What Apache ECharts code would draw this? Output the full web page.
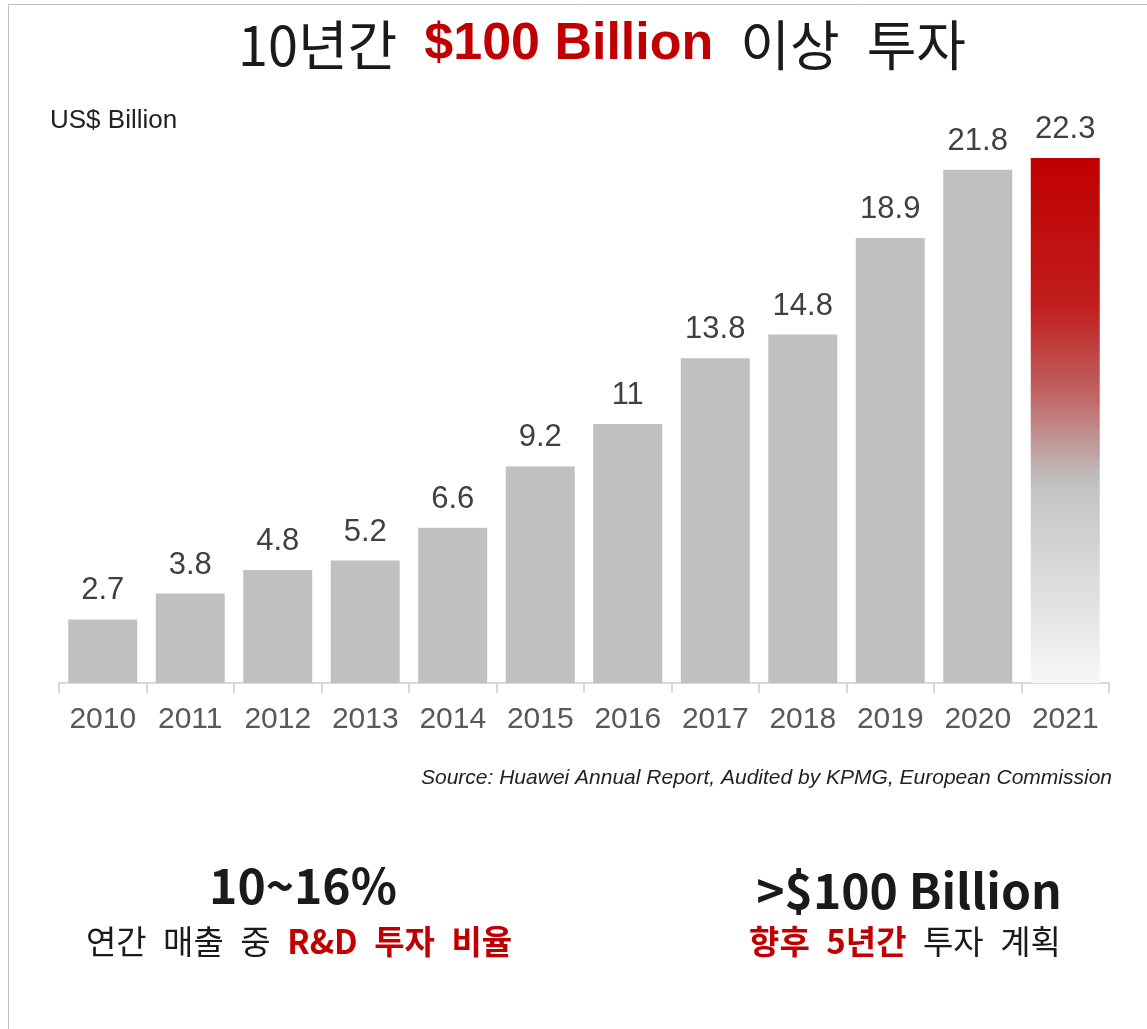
<!DOCTYPE html>
<html>
<head>
<meta charset="utf-8">
<script src="https://cdn.jsdelivr.net/npm/echarts@6/dist/echarts.min.js"></script>
<style>
  html, body { margin: 0; padding: 0; background: #fff; }
  #chart { width: 1147px; height: 1029px; }
</style>
</head>
<body>
<div id="chart"></div>
<script>
  var years = ["2010", "2011", "2012", "2013", "2014", "2015", "2016", "2017", "2018", "2019", "2020", "2021"];
  var rdSpend = [2.7, 3.8, 4.8, 5.2, 6.6, 9.2, 11, 13.8, 14.8, 18.9, 21.8, 22.3];

  var sans = "'Liberation Sans', Arial, 'Noto Sans CJK KR', sans-serif";
  var kr = "'Noto Sans CJK KR', 'Liberation Sans', sans-serif";
  var sp = "\u2002"; // wider gap, Korean font here is narrower than the original

  var chart = echarts.init(document.getElementById("chart"));

  var barData = rdSpend.map(function (v, i) {
    if (i === rdSpend.length - 1) {
      return {
        value: v,
        itemStyle: {
          color: new echarts.graphic.LinearGradient(0, 0, 0, 1, [
            { offset: 0, color: "#C00000" },
            { offset: 0.28, color: "#C11D1D" },
            { offset: 0.45, color: "#C06464" },
            { offset: 0.6, color: "#C0B8B8" },
            { offset: 0.63, color: "#C4C4C4" },
            { offset: 1, color: "#F7F7F7" }
          ])
        }
      };
    }
    return v;
  });

  chart.setOption({
    animation: false,
    title: [
      {
        text: "10년간" + sp + "{r|$100 Billion}" + sp + "이상" + sp + "투자",
        left: 597, textAlign: "center",
        top: 13,
        textStyle: {
          fontFamily: kr, fontSize: 54, fontWeight: "normal", color: "#1a1a1a",
          rich: {
            r: { fontFamily: sans, fontSize: 52, fontWeight: "bold", color: "#C00000" }
          }
        }
      },
      {
        text: "US$ Billion",
        left: 45, top: 103,
        textStyle: { fontFamily: sans, fontSize: 26, fontWeight: "normal", color: "#222" }
      },
      {
        text: "Source: Huawei Annual Report, Audited by KPMG, European Commission",
        right: 30, top: 763,
        textStyle: { fontFamily: sans, fontSize: 21, fontStyle: "italic", fontWeight: "normal", color: "#222" }
      },
      {
        text: "10~16%",
        left: 298, top: 857, textAlign: "center",
        textStyle: { fontFamily: kr, fontSize: 48, fontWeight: "bold", color: "#1a1a1a" }
      },
      {
        text: "연간" + sp + "매출" + sp + "중" + sp + "{r|R&D" + sp + "투자" + sp + "비율}",
        left: 294, top: 920, textAlign: "center",
        textStyle: {
          fontFamily: kr, fontSize: 33, fontWeight: "normal", color: "#1a1a1a",
          rich: { r: { fontFamily: kr, fontSize: 33, fontWeight: "bold", color: "#C00000" } }
        }
      },
      {
        text: ">$100 Billion",
        left: 904, top: 862, textAlign: "center",
        textStyle: { fontFamily: kr, fontSize: 48, fontWeight: "bold", color: "#1a1a1a" }
      },
      {
        text: "{r|향후" + sp + "5년간}" + sp + "투자" + sp + "계획",
        left: 900, top: 920, textAlign: "center",
        textStyle: {
          fontFamily: kr, fontSize: 33, fontWeight: "normal", color: "#1a1a1a",
          rich: { r: { fontFamily: kr, fontSize: 33, fontWeight: "bold", color: "#C00000" } }
        }
      }
    ],
    graphic: [
      { type: "line", shape: { x1: 8.5, y1: 4.5, x2: 1147, y2: 4.5 }, style: { stroke: "#bfbfbf", lineWidth: 1 } },
      { type: "line", shape: { x1: 8.5, y1: 4.5, x2: 8.5, y2: 1029 }, style: { stroke: "#bfbfbf", lineWidth: 1 } }
    ],
    grid: { left: 59, right: 38, top: 118, bottom: 346 },
    xAxis: {
      type: "category",
      data: years,
      axisLine: { lineStyle: { color: "#d9d9d9", width: 2 } },
      axisTick: { show: true, interval: 0, length: 10, alignWithLabel: false, lineStyle: { color: "#d9d9d9", width: 2 } },
      axisLabel: { interval: 0, hideOverlap: false, fontFamily: sans, fontSize: 30, color: "#595959", margin: 22 }
    },
    yAxis: {
      type: "value",
      min: 0, max: 24,
      show: false,
      splitLine: { show: false }
    },
    series: [
      {
        type: "bar",
        data: barData,
        barWidth: 69,
        itemStyle: { color: "#C0C0C0" },
        label: {
          show: true,
          position: "top",
          distance: 13,
          fontFamily: sans,
          fontSize: 31,
          color: "#404040"
        }
      }
    ]
  });
</script>
</body>
</html>
